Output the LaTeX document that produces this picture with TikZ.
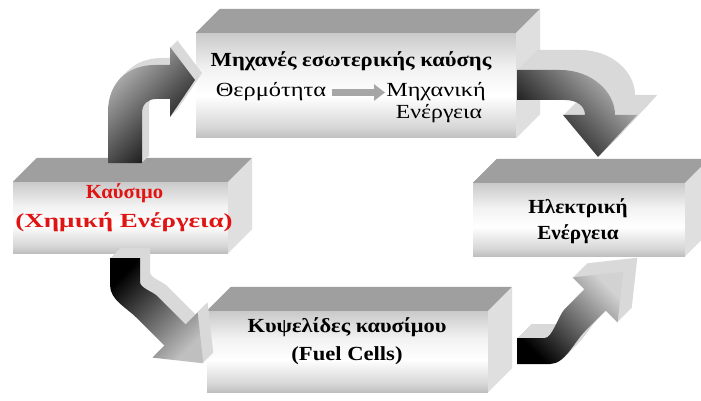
\documentclass[tikz,border=0pt]{standalone}
\usepackage{fontspec}
\setmainfont{Liberation Serif}
\usetikzlibrary{arrows.meta}
\pgfdeclareverticalshading{frontshade}{100bp}{color(0bp)=(gray!50); color(25bp)=(gray!50); color(30bp)=(gray!32); color(45bp)=(white); color(58bp)=(gray!10); color(75bp)=(gray!42); color(100bp)=(gray!42)}
\definecolor{fuelred}{RGB}{225,20,20}
\tikzset{
  frontface/.style={rectangle, inner sep=0pt, shade, shading=frontshade},
  topface/.style={fill=gray!75},
  sideface/.style={fill=gray!25},
  arrowside/.style={fill=gray!30},
  boxtext/.style={inner sep=0pt, anchor=base, font=\fontsize{20}{24}\selectfont\bfseries},
  smalltext/.style={inner sep=0pt, anchor=base, font=\fontsize{20}{24}\selectfont},
}
\newcommand\blockbox[5]{%
  \node[frontface, minimum width=#4pt, minimum height=#5pt] (#1) at (#2,#3) {};
  \fill[topface] (#1.north west) -- ++(24,-24) -- ([shift={(24,-24)}]#1.north east) -- (#1.north east) -- cycle;
  \fill[sideface] (#1.north east) -- ++(24,-24) -- ([shift={(24,-24)}]#1.south east) -- (#1.south east) -- cycle;}
\newcommand\arrowA[1]{\path[#1] (108,163) -- (108,112) .. controls (108,82) and (128,65) .. (155,65) -- (170,65) -- (170,47) -- (195,80) -- (170,117) -- (170,99) -- (156,99) .. controls (148,99) and (142,104) .. (142,113) -- (142,163) -- cycle;}
\newcommand\arrowB[1]{\path[#1] (517,70) -- (560,70) .. controls (592,70) and (615,92) .. (615,115) -- (637,115) -- (598,157) -- (563,115) -- (585,115) .. controls (585,106) and (577,100) .. (565,100) -- (517,100) -- cycle;}
\newcommand\arrowC[1]{\path[#1] (110,258) -- (140,258) -- (140,282) .. controls (140,288) and (152.6,291.4) .. (157.6,296.4) -- (185.6,324.4) -- (197.6,312.4) -- (203.3,363.3) -- (152.4,357.6) -- (164.4,345.6) -- (136.4,317.6) .. controls (126.4,307.6) and (110,300) .. (110,285) -- cycle;}
\newcommand\arrowD[1]{\path[#1] (517,338) -- (545,338) .. controls (552,338) and (559.4,314.4) .. (564.4,309.4) -- (584.4,289.4) -- (572.4,277.4) -- (623.3,271.7) -- (617.6,322.6) -- (605.6,310.6) -- (585.6,330.6) .. controls (573.6,342.6) and (565,364) .. (550,364) -- (517,364) -- cycle;}
\begin{document}
\begin{tikzpicture}[x=1pt,y=-1pt]
\useasboundingbox[fill=white] (0,0) rectangle (701,401);
% boxes
\blockbox{engines}{356}{85.5}{320}{105}
\blockbox{fuel}{120.5}{217.5}{215}{71}
\blockbox{elec}{579}{219.5}{212}{73}
\blockbox{cells}{347.5}{351.5}{281}{81}
% texts
\node[boxtext, xscale=1.13] (enginestitle) at (351,67) {Μηχανές εσωτερικής καύσης};
\node[smalltext, xscale=1.22] (heat) at (271,97) {Θερμότητα};
\node[smalltext, xscale=1.21] (mechA) at (436,97) {Μηχανική};
\node[smalltext, xscale=1.19] (mechB) at (439,118) {Ενέργεια};
\coordinate (arrstart) at (332,92.5);
\coordinate (arrend) at (385,92.5);
\draw[gray!70, line width=7pt, -{Triangle[length=11pt,width=16pt]}] (arrstart) -- (arrend);
\node[boxtext, text=fuelred, xscale=1.03] (fuelA) at (124.5,198) {Καύσιμο};
\node[boxtext, text=fuelred, xscale=1.35] (fuelB) at (124,227) {(Χημική Ενέργεια)};
\node[boxtext, xscale=1.06] (elecA) at (578,213) {Ηλεκτρική};
\node[boxtext, xscale=1.06] (elecB) at (578,239) {Ενέργεια};
\node[boxtext, xscale=1.12] (cellsA) at (347,332) {Κυψελίδες καυσίμου};
\node[boxtext, xscale=1.13] (cellsB) at (347,360) {(Fuel Cells)};
% 3D block arrows
\foreach \d in {1,...,7} {\arrowA{arrowside, shift={(\d,-\d)}}}
\arrowA{shade, top color=gray!55, bottom color=black, shading angle=45}
\foreach \d in {1,...,20} {\arrowB{arrowside, shift={(\d,-\d)}}}
\arrowB{shade, top color=gray!55, bottom color=black, shading angle=-45}
\foreach \d in {1,...,10} {\arrowC{arrowside, shift={(\d,-\d)}}}
\arrowC{shade, top color=black, bottom color=gray!50, shading angle=45}
\foreach \d in {1,...,14} {\arrowD{arrowside, shift={(\d,-\d)}}}
\arrowD{shade, top color=gray!35, bottom color=black, shading angle=-45}
\end{tikzpicture}
\end{document}
